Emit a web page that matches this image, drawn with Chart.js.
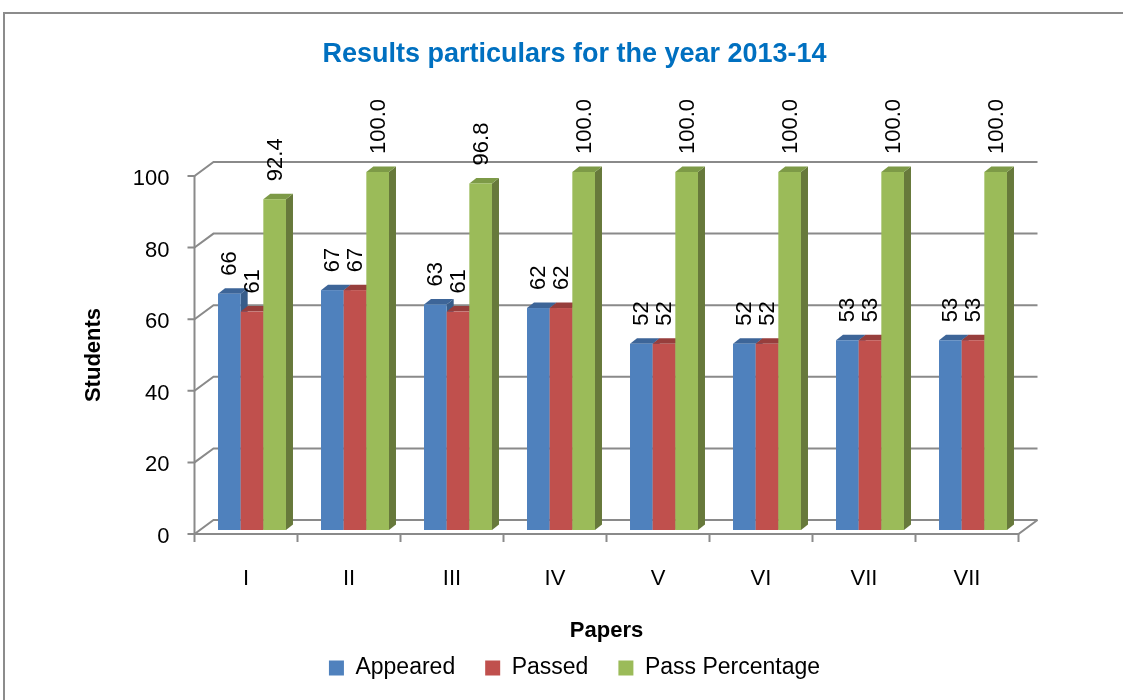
<!DOCTYPE html>
<html>
<head>
<meta charset="utf-8">
<title>Results particulars for the year 2013-14</title>
<script src="https://cdn.jsdelivr.net/npm/chart.js"></script>
<style>
  body { margin: 0; background: #fff; }
  #wrap { width: 1123px; height: 700px; position: relative; }
</style>
</head>
<body>
<div id="wrap"><canvas id="resultChart"></canvas></div>
<script>
// data
var papers = ['I', 'II', 'III', 'IV', 'V', 'VI', 'VII', 'VII'];
var appeared = [66, 67, 63, 62, 52, 52, 53, 53];
var passed = [61, 67, 61, 62, 52, 52, 53, 53];
var passPercentage = [92.4, 100.0, 96.8, 100.0, 100.0, 100.0, 100.0, 100.0];
var yTicks = [0, 20, 40, 60, 80, 100];

var fontFamily = "'Liberation Sans', Arial, sans-serif";
Chart.defaults.font.family = fontFamily;

// 3d look: front edge, back wall and bar depth offsets
var FRONT = { dx: -6, dy: 4 };
var BACK = { dx: 13, dy: -10 };
var DEPTH = { dx: 7, dy: -5.5 };
var gridColor = '#8a8a8a';

var faces = [
  { front: '#4F81BD', top: '#3D6598', side: '#385D8A' },
  { front: '#C0504D', top: '#973E3C', side: '#8C3836' },
  { front: '#9BBB59', top: '#7D9A47', side: '#67793B' }
];

function poly(ctx, pts, color) {
  ctx.fillStyle = color;
  ctx.beginPath();
  ctx.moveTo(pts[0][0], pts[0][1]);
  for (var k = 1; k < pts.length; k++) ctx.lineTo(pts[k][0], pts[k][1]);
  ctx.closePath();
  ctx.fill();
}

var bars3d = {
  id: 'bars3d',
  beforeDatasetsDraw: function (chart) {
    var ctx = chart.ctx, area = chart.chartArea;
    var xs = chart.scales.x, ys = chart.scales.y;
    ctx.save();

    // outer frame
    ctx.strokeStyle = '#8c8c8c';
    ctx.lineWidth = 2;
    ctx.beginPath();
    ctx.moveTo(4, chart.height);
    ctx.lineTo(4, 13);
    ctx.lineTo(chart.width, 13);
    ctx.stroke();

    var fl = area.left + FRONT.dx, fr = area.right + FRONT.dx;
    var bl = area.left + BACK.dx, br = area.right + BACK.dx;
    var y0 = ys.getPixelForValue(0);

    // wall gridlines + left wall diagonals + y ticks
    ctx.strokeStyle = gridColor;
    ctx.lineWidth = 2;
    ctx.fillStyle = '#000';
    ctx.font = '22px ' + fontFamily;
    ctx.textAlign = 'right';
    ctx.textBaseline = 'middle';
    yTicks.forEach(function (v) {
      var py = ys.getPixelForValue(v);
      ctx.beginPath();
      ctx.moveTo(fl - 7, py + FRONT.dy);
      ctx.lineTo(fl, py + FRONT.dy);
      ctx.lineTo(bl, py + BACK.dy);
      ctx.lineTo(br, py + BACK.dy);
      ctx.stroke();
      ctx.fillText(String(v), fl - 25, py + FRONT.dy + 3);
    });

    // front vertical axis
    ctx.beginPath();
    ctx.moveTo(fl, ys.getPixelForValue(100) + FRONT.dy);
    ctx.lineTo(fl, y0 + FRONT.dy);
    ctx.stroke();

    // floor front edge and right diagonal
    ctx.beginPath();
    ctx.moveTo(fl, y0 + FRONT.dy);
    ctx.lineTo(fr, y0 + FRONT.dy);
    ctx.lineTo(br, y0 + BACK.dy);
    ctx.stroke();

    // category ticks and labels
    var n = papers.length;
    for (var k = 0; k <= n; k++) {
      var tx = fl + k * (fr - fl) / n;
      ctx.beginPath();
      ctx.moveTo(tx, y0 + FRONT.dy);
      ctx.lineTo(tx, y0 + FRONT.dy + 8);
      ctx.stroke();
    }
    ctx.textAlign = 'center';
    ctx.font = '22px ' + fontFamily;
    papers.forEach(function (p, j) {
      ctx.fillText(p, xs.getPixelForValue(j) + FRONT.dx, y0 + FRONT.dy + 45);
    });

    // axis titles
    ctx.font = 'bold 22px ' + fontFamily;
    ctx.fillText('Papers', (fl + fr) / 2, 631);
    ctx.save();
    ctx.translate(94, (ys.getPixelForValue(0) + ys.getPixelForValue(100)) / 2 + FRONT.dy);
    ctx.rotate(-Math.PI / 2);
    ctx.fillText('Students', 0, 0);
    ctx.restore();

    // bars: side, top, front, left to right
    var metas = chart.data.datasets.map(function (d, i) { return chart.getDatasetMeta(i); });
    for (var j = 0; j < n; j++) {
      metas.forEach(function (meta, i) {
        var bar = meta.data[j];
        var l = bar.x - bar.width / 2, r = bar.x + bar.width / 2;
        var t = bar.y, b = bar.base;
        poly(ctx, [[r, t], [r + DEPTH.dx, t + DEPTH.dy], [r + DEPTH.dx, b + DEPTH.dy], [r, b]], faces[i].side);
        poly(ctx, [[l, t], [l + DEPTH.dx, t + DEPTH.dy], [r + DEPTH.dx, t + DEPTH.dy], [r, t]], faces[i].top);
        ctx.fillStyle = faces[i].front;
        ctx.fillRect(l, t, r - l, b - t);
      });
    }

    // value labels, rotated
    ctx.fillStyle = '#000';
    ctx.font = '22px ' + fontFamily;
    ctx.textAlign = 'left';
    ctx.textBaseline = 'middle';
    metas.forEach(function (meta, i) {
      var values = chart.data.datasets[i].data;
      meta.data.forEach(function (bar, j) {
        var txt = i === 2 ? values[j].toFixed(1) : String(values[j]);
        ctx.save();
        ctx.translate(bar.x + 1, bar.y - 18);
        ctx.rotate(-Math.PI / 2);
        ctx.fillText(txt, 0, 0);
        ctx.restore();
      });
    });

    ctx.restore();
    return false;
  }
};

var ctx = document.getElementById('resultChart').getContext('2d');
var resultChart = new Chart(ctx, {
  type: 'bar',
  plugins: [bars3d],
  data: {
    labels: papers,
    datasets: [
      { label: 'Appeared', data: appeared, backgroundColor: '#4F81BD' },
      { label: 'Passed', data: passed, backgroundColor: '#C0504D' },
      { label: 'Pass Percentage', data: passPercentage, backgroundColor: '#9BBB59' }
    ]
  },
  options: {
    responsive: true,
    maintainAspectRatio: false,
    animation: false,
    layout: {
      padding: { left: 124.5, right: 98.5, top: 0, bottom: 10.5 }
    },
    datasets: {
      bar: { categoryPercentage: 0.66, barPercentage: 1 }
    },
    scales: {
      x: {
        grid: { display: false },
        border: { display: false },
        ticks: { display: false },
        afterFit: function (s) { s.height = 96.5; }
      },
      y: {
        min: 0,
        max: 100,
        grid: { display: false },
        border: { display: false },
        ticks: { display: false },
        afterFit: function (s) { s.width = 76; }
      }
    },
    plugins: {
      title: {
        display: true,
        text: 'Results particulars for the year 2013-14',
        color: '#0070C0',
        font: { size: 27, weight: 'bold' },
        padding: { top: 38, bottom: 101.6 }
      },
      legend: {
        position: 'bottom',
        labels: {
          color: '#000',
          font: { size: 23 },
          boxWidth: 15,
          boxHeight: 15,
          padding: 30
        }
      },
      tooltip: { enabled: false }
    }
  }
});
</script>
</body>
</html>
